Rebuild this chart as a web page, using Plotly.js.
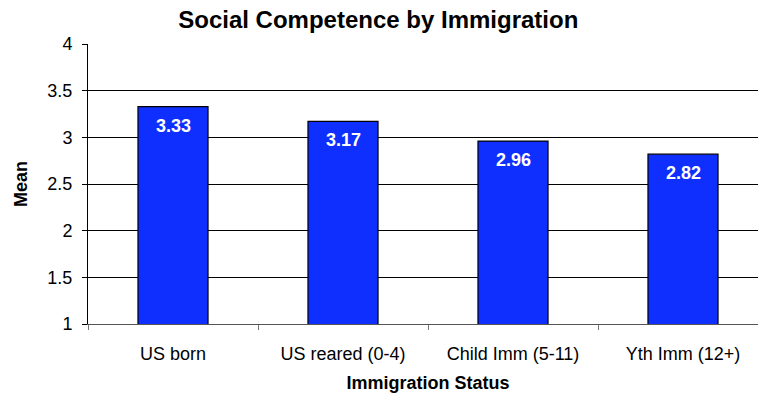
<!DOCTYPE html>
<html><head><meta charset="utf-8">
<script src="https://cdn.plot.ly/plotly-3.0.1.min.js"></script>
<style>html,body{margin:0;padding:0;overflow:hidden;background:#fff}#chart{width:780px;height:397px}</style>
</head><body><div id="chart"></div>
<script>
const categories = ["US born", "US reared (0-4)", "Child Imm (5-11)", "Yth Imm (12+)"];
const means = [3.33, 3.17, 2.96, 2.82];
const labels = ["3.33", "3.17", "2.96", "2.82"];
const yTicks = [1, 1.5, 2, 2.5, 3, 3.5, 4];

const FONT = "Liberation Sans, Arial, Helvetica";
const trace = {
  type: "bar", x: categories, y: means, base: 0,
  marker: {color: "#0f2fff", line: {color: "#000", width: 1.2}},
  hoverinfo: "none"
};
const annotations = categories.map((c, i) => ({
  x: c, y: means[i], xref: "x", yref: "y", text: "<b>" + labels[i] + "</b>",
  showarrow: false, yanchor: "middle", yshift: -19,
  font: {family: FONT, size: 18, color: "#fff"}
}));
const layout = {
  width: 780, height: 397,
  margin: {l: 88, r: 12, t: 44, b: 73},
  paper_bgcolor: "#fff", plot_bgcolor: "#fff",
  bargap: 0.588,
  showlegend: false,
  font: {family: FONT, color: "#000"},
  title: {text: "<b>Social Competence by Immigration</b>", x: 0.485, xref: "container", xanchor: "center",
          y: 1 - 20 / 397, yref: "container", yanchor: "middle",
          font: {size: 24, family: FONT, color: "#000"}},
  xaxis: {
    type: "category", showline: true, linecolor: "#555", linewidth: 1,
    ticks: "outside", tickson: "boundaries", ticklen: 5, tickcolor: "#777",
    ticklabelstandoff: 13,
    tickfont: {size: 18}, showgrid: false,
    title: {text: "<b>Immigration Status</b>", font: {size: 18}, standoff: 13}
  },
  yaxis: {
    range: [1, 4], tickvals: yTicks, ticktext: yTicks.map(String),
    showline: true, linecolor: "#000", linewidth: 1,
    ticks: "outside", ticklen: 5, tickcolor: "#000",
    ticklabelstandoff: 6,
    showgrid: true, gridcolor: "#000", gridwidth: 1, zeroline: false,
    tickfont: {size: 18},
    title: {text: "<b>Mean</b>", font: {size: 18}, standoff: 15}
  },
  annotations: annotations
};
Plotly.newPlot("chart", [trace], layout, {staticPlot: true, displayModeBar: false});
</script></body></html>
